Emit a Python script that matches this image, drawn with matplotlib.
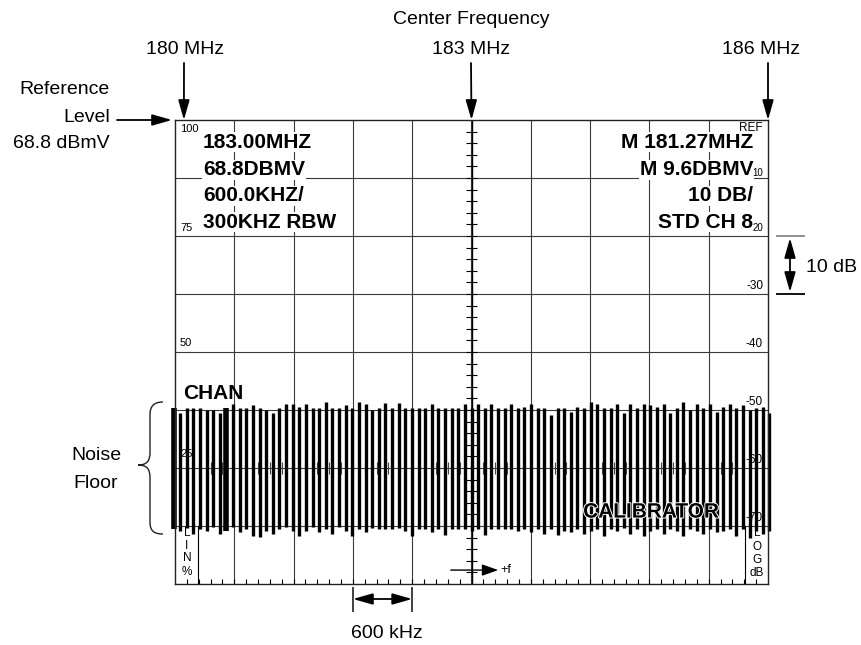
import matplotlib
matplotlib.use('Agg')
import matplotlib.pyplot as plt
import matplotlib.transforms as mtransforms
import numpy as np
from matplotlib import font_manager, patheffects
from matplotlib.path import Path
from matplotlib.patches import PathPatch

# analyzer settings
f_start, f_center, f_stop = 180.0, 183.0, 186.0   # MHz
span_div = 0.6                                     # MHz / div
db_div = 10                                        # dB / div

# carrier comb that forms the noise floor (dB below reference level)
comb_tops = [
    -49.7, -50.5, -49.7, -49.7, -49.7, -50.0, -50.0, -50.5, -49.7, -48.9,
    -49.7, -49.7, -49.1, -49.7, -50.0, -50.5, -49.7, -48.9, -48.9, -49.4,
    -48.9, -49.7, -49.7, -48.6, -49.7, -49.7, -49.1, -49.7, -48.6, -48.9,
    -50.0, -49.7, -48.8, -49.7, -48.8, -49.7, -49.7, -49.7, -49.7, -48.9,
    -49.7, -49.7, -49.7, -49.7, -48.9, -49.7, -48.9, -49.7, -48.9, -49.7,
    -49.7, -48.9, -49.7, -49.4, -48.9, -49.7, -49.7, -50.9, -49.7, -49.7,
    -50.3, -49.4, -49.7, -48.7, -48.9, -49.7, -49.7, -48.9, -50.6, -48.9,
    -49.7, -48.9, -49.1, -49.4, -48.9, -50.5, -49.7, -48.7, -50.0, -48.9,
    -49.7, -48.9, -50.3, -49.4, -48.9, -49.7, -49.1, -50.0, -49.7, -49.4,
    -50.6]
comb_bottoms = [
    -70.6, -70.9, -70.3, -71.4, -70.6, -70.9, -70.2, -71.4, -70.9, -70.2,
    -71.1, -70.6, -71.7, -71.9, -70.9, -71.4, -70.6, -70.2, -70.9, -71.7,
    -70.9, -70.2, -71.1, -70.6, -71.4, -70.2, -70.9, -71.7, -70.6, -71.1,
    -70.3, -70.6, -70.6, -70.6, -70.3, -70.9, -71.7, -70.6, -70.6, -71.1,
    -70.6, -71.6, -70.6, -70.6, -70.6, -70.9, -70.6, -71.6, -70.6, -70.6,
    -70.6, -70.6, -70.9, -70.6, -71.1, -70.6, -71.4, -70.6, -71.6, -70.9,
    -71.1, -70.6, -71.4, -70.9, -70.6, -71.7, -70.6, -70.9, -70.3, -71.4,
    -70.6, -71.7, -70.9, -70.6, -71.4, -70.6, -70.9, -71.7, -70.6, -70.9,
    -71.4, -70.6, -71.1, -70.9, -70.6, -71.7, -70.6, -72.0, -70.9, -71.4,
    -70.9]
comb_freqs = np.linspace(179.985, 186.015, len(comb_tops))

# screen readouts
left_readout = ['183.00MHZ', '68.8DBMV', '600.0KHZ/', '300KHZ RBW']
right_readout = ['M 181.27MHZ', 'M 9.6DBMV', '10 DB/', 'STD CH 8']
readout_db = [-3.8, -8.6, -13.1, -17.6]
lin_labels = ['100', '75', '50', '25']
lin_db = [-1.6, -18.6, -38.4, -57.6]
log_labels = ['REF', '10', '20', '-30', '-40', '-50', '-60', '-70']
log_db = [-1.4, -9.1, -18.6, -28.6, -38.6, -48.6, -58.6, -68.6]

# fonts
names = {f.name for f in font_manager.fontManager.ttflist}
if 'Liberation Sans Narrow' in names:
    ann_font, ann_size = 'Liberation Sans Narrow', 16.5
else:
    ann_font, ann_size = 'Liberation Sans', 14
scr_font = 'Liberation Sans'

fig = plt.figure(figsize=(8.62, 6.45), dpi=100)
ax = fig.add_axes([175 / 862, 61 / 645, 593 / 862, 464 / 645])
ax.set_xlim(f_start, f_stop)
ax.set_ylim(-80, 0)
ax.set_xticks([])
ax.set_yticks([])
for s in ax.spines.values():
    s.set_linewidth(1.0)
    s.set_color('#222222')
    s.set_zorder(4)

# graticule
grid_f = np.arange(f_start + span_div, f_stop - 0.01, span_div)
grid_db = np.arange(-db_div, -71, -db_div)
ax.vlines(grid_f, -80, 0, color='#3a3a3a', lw=0.8, zorder=1)
ax.vlines([f_center], -80, 0, color='black', lw=1.0, zorder=1)
ax.hlines(grid_db, f_start, f_stop, color='#3a3a3a', lw=0.8, zorder=1)

minor_db = np.arange(-2, -79, -2)
ax.hlines(minor_db, f_center - 0.055, f_center + 0.055, color='black', lw=0.8, zorder=1)
minor_f = np.arange(f_start + 0.12, f_stop - 0.01, 0.12)
ax.vlines(minor_f, -61.0, -59.0, color='#444444', lw=0.8, zorder=1)
ax.vlines(minor_f, -80, -79.1, color='black', lw=0.8, zorder=1)

# noise floor comb
widths = np.full(len(comb_tops), 2.4)
widths[[0, 8]] = 4.0
ax.vlines(comb_freqs, comb_bottoms, comb_tops, colors='black',
          linewidths=widths, zorder=2, clip_on=False)

# readouts
box = dict(facecolor='white', edgecolor='none', pad=0.5)
for txt, y in zip(left_readout, readout_db):
    ax.text(180.283, y, txt, ha='left', va='center', fontsize=15,
            fontweight='bold', family=scr_font, bbox=box, zorder=3)
for txt, y in zip(right_readout, readout_db):
    ax.text(185.85, y, txt, ha='right', va='center', fontsize=15,
            fontweight='bold', family=scr_font, bbox=box, zorder=3)

for txt, y in zip(lin_labels, lin_db):
    ax.text(180.05, y, txt, ha='left', va='center', fontsize=8,
            family=scr_font, zorder=5)
for txt, y in zip(log_labels, log_db):
    fs = 7 if txt in ('10', '20') else 8.5
    ax.text(185.95, y, txt, ha='right', va='center', fontsize=fs,
            family=scr_font, zorder=5)

ax.text(180.08, -47.2, 'CHAN', ha='left', va='center', fontsize=15,
        fontweight='bold', family=scr_font, zorder=3)
ax.text(184.13, -67.6, 'CALIBRATOR', ha='left', va='center', fontsize=15,
        fontweight='bold', family=scr_font, zorder=3,
        path_effects=[patheffects.withStroke(linewidth=1.4, foreground='white')])

# LIN / LOG boxes
ax.vlines([180.233, 185.767], -80, -70, color='black', lw=0.8, zorder=3)
for ch, y in zip(['L', 'I', 'N', '%'], [-71.2, -73.4, -75.5, -77.9]):
    ax.text(180.12, y, ch, ha='center', va='center', fontsize=8.5,
            family=scr_font, zorder=5)
for ch, y in zip(['L', 'O', 'G', 'dB'], [-71.2, -73.6, -75.9, -78.1]):
    ax.text(185.89, y, ch, ha='center', va='center', fontsize=8.5,
            family=scr_font, zorder=5)

# +f arrow
ax.annotate('', xy=(183.27, -77.6), xytext=(182.79, -77.6),
            arrowprops=dict(arrowstyle='-|>,head_length=0.7,head_width=0.25',
                            mutation_scale=14, color='black', lw=1.0,
                            shrinkA=0, shrinkB=0), zorder=5)
ax.text(183.29, -77.6, '+f', ha='left', va='center', fontsize=9,
        family=scr_font, zorder=5)

# annotation layer in pixel coordinates
ann = fig.add_axes([0, 0, 1, 1], zorder=5)
ann.set_xlim(0, 862)
ann.set_ylim(645, 0)
ann.axis('off')
ann.patch.set_visible(False)

arrow = dict(arrowstyle='-|>,head_length=0.6,head_width=0.17',
             mutation_scale=20, color='black', lw=1.3, shrinkA=0, shrinkB=0)
dbl = dict(arrowstyle='<|-|>,head_length=0.6,head_width=0.17',
           mutation_scale=20, color='black', lw=1.3, shrinkA=0, shrinkB=0)
tk = dict(family=ann_font, fontsize=ann_size, color='black')

ann.text(471, 20, 'Center Frequency', ha='center', va='center', **tk)
ann.text(471, 50, '183 MHz', ha='center', va='center', **tk)
ann.text(185, 50, '180 MHz', ha='center', va='center', **tk)
ann.text(761, 50, '186 MHz', ha='center', va='center', **tk)
for f, x0 in [(180.09, 184), (f_center, 471), (f_stop, 768)]:
    ann.annotate('', xy=(f, 0), xycoords=ax.transData, xytext=(x0, 63),
                 textcoords='data', arrowprops=arrow, annotation_clip=False)

ann.text(110, 90, 'Reference', ha='right', va='center', **tk)
ann.text(110, 117, 'Level', ha='right', va='center', **tk)
ann.text(110, 144, '68.8 dBmV', ha='right', va='center', **tk)
ann.annotate('', xy=(179.97, 0), xycoords=ax.transData, xytext=(117, 120),
             textcoords='data', arrowprops=arrow, annotation_clip=False)

# 10 dB scale marker
ann.hlines(236, 776, 805, color='#888888', lw=1.3)
ann.hlines(294, 776, 805, color='black', lw=1.3)
ann.annotate('', xy=(790, 292), xytext=(790, 238), arrowprops=dbl)
ann.text(806, 268, '10 dB', ha='left', va='center', **tk)

# 600 kHz span marker
blend = mtransforms.blended_transform_factory(ax.transData, ann.transData)
ann.vlines([181.8, 182.4], 587, 612, color='#333333', lw=1.3, transform=blend)
ann.annotate('', xy=(182.4, 599), xycoords=blend, xytext=(181.8, 599),
             textcoords=blend, arrowprops=dbl)
ann.text(387, 634, '600 kHz', ha='center', va='center', **tk)

# noise floor brace
verts = [(163, 402), (154, 402), (150, 406), (150, 415),
         (150, 452),
         (150, 461), (147, 465), (138, 465),
         (147, 465), (150, 469), (150, 478),
         (150, 522),
         (150, 531), (154, 534), (163, 534)]
codes = [Path.MOVETO, Path.CURVE4, Path.CURVE4, Path.CURVE4,
         Path.LINETO,
         Path.CURVE4, Path.CURVE4, Path.CURVE4,
         Path.CURVE4, Path.CURVE4, Path.CURVE4,
         Path.LINETO,
         Path.CURVE4, Path.CURVE4, Path.CURVE4]
ann.add_patch(PathPatch(Path(verts, codes), facecolor='none',
                        edgecolor='#222222', lw=1.0))
ann.text(96, 456, 'Noise', ha='center', va='center', **tk)
ann.text(96, 484, 'Floor', ha='center', va='center', **tk)

fig.savefig('out.png', dpi=100)
